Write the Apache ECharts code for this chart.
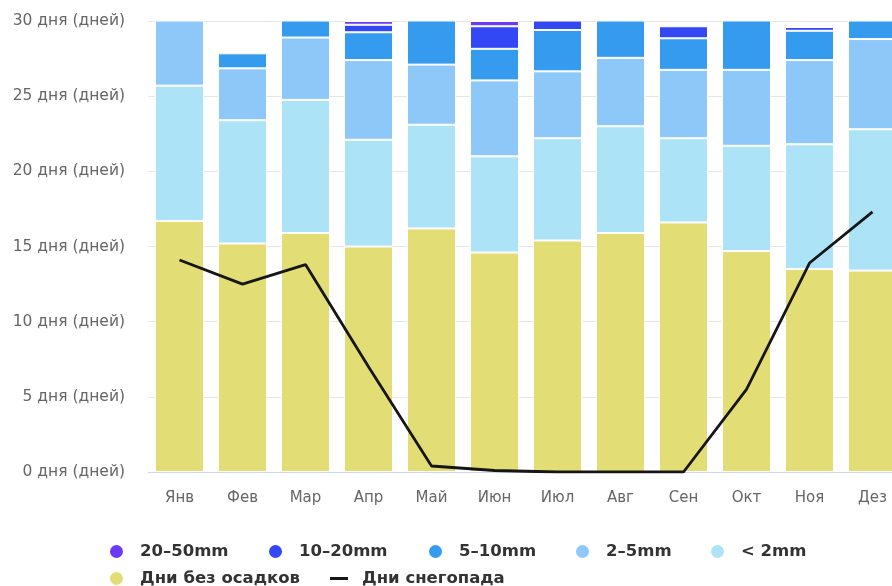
<!DOCTYPE html>
<html>
<head>
<meta charset="utf-8">
<script src="https://cdn.jsdelivr.net/npm/echarts@6/dist/echarts.min.js"></script>
<style>
  html, body { margin: 0; padding: 0; background: #ffffff; overflow: hidden; width: 892px; height: 586px; }
  /* the plot runs a little past the right edge of the page */
  #chart { width: 904px; height: 586px; }
</style>
</head>
<body>
<div id="chart"></div>
<script>
// Monthly climate: days per precipitation class and snowfall days
const months = ['Янв', 'Фев', 'Мар', 'Апр', 'Май', 'Июн', 'Июл', 'Авг', 'Сен', 'Окт', 'Ноя', 'Дез'];

const dryDays   = [16.7, 15.2, 15.9, 15.0, 16.2, 14.6, 15.4, 15.9, 16.6, 14.7, 13.5, 13.4];
const under2mm  = [9.0, 8.2, 8.85, 7.1, 6.9, 6.4, 6.8, 7.1, 5.6, 7.0, 8.3, 9.4];
const mm2to5    = [5.0, 3.45, 4.15, 5.3, 4.0, 5.05, 4.45, 4.55, 4.55, 5.05, 5.6, 6.0];
const mm5to10   = [0.3, 1.0, 2.1, 1.85, 3.9, 2.1, 2.75, 3.45, 2.1, 4.25, 1.95, 2.2];
const mm10to20  = [0, 0, 0, 0.5, 0, 1.5, 0.9, 0, 0.8, 0, 0.25, 0];
const mm20to50  = [0, 0, 0, 0.25, 0, 0.35, 0.7, 0, 0, 0, 0.13, 0];
const snowDays  = [14.1, 12.5, 13.8, 7.0, 0.4, 0.1, 0, 0, 0, 5.5, 13.9, 17.3];

const yTicks = [0, 5, 10, 15, 20, 25, 30];

const FONT = 'DejaVu Sans';

// bottom-to-top stacking order
const stackSeries = [
  { name: 'Дни без осадков', data: dryDays,  color: '#e2dd75' },
  { name: '< 2mm',           data: under2mm, color: '#ade3f7' },
  { name: '2–5mm',           data: mm2to5,   color: '#8ec8f9' },
  { name: '5–10mm',          data: mm5to10,  color: '#349bef' },
  { name: '10–20mm',         data: mm10to20, color: '#3447f4' },
  { name: '20–50mm',         data: mm20to50, color: '#6a3af4' }
];

const series = stackSeries.map(s => ({
  name: s.name,
  type: 'bar',
  stack: 'days',
  barWidth: 49,
  data: s.data.map(v => (v > 0 ? v : '-')),
  itemStyle: { color: s.color, borderColor: '#ffffff', borderWidth: 1 },
  emphasis: { disabled: true },
  clip: true
}));

series.push({
  name: 'Дни снегопада',
  type: 'line',
  data: snowDays,
  symbol: 'none',
  lineStyle: { color: '#161616', width: 2.8 },
  itemStyle: { color: '#161616' },
  z: 5
});

// legend entries, one component each so they can sit on a two-row layout
const legendItems = [
  { name: '20–50mm',         left: 108, top: 543 },
  { name: '10–20mm',         left: 267, top: 543 },
  { name: '5–10mm',          left: 427, top: 543 },
  { name: '2–5mm',           left: 574, top: 543 },
  { name: '< 2mm',           left: 709, top: 543 },
  { name: 'Дни без осадков', left: 108, top: 570 },
  { name: 'Дни снегопада',   left: 330, top: 570, line: true }
];

const legends = legendItems.map(it => ({
  left: it.left,
  top: it.top,
  padding: 0,
  itemWidth: it.line ? 18 : 15,
  itemHeight: it.line ? 3 : 15,
  icon: it.line ? 'rect' : 'circle',
  selectedMode: false,
  data: [it.name],
  textStyle: {
    fontFamily: FONT,
    fontSize: 16.5,
    fontWeight: 'bold',
    color: '#333333',
    padding: [0, 0, 0, it.line ? 9 : 11]
  }
}));

const chart = echarts.init(document.getElementById('chart'), null, { renderer: 'canvas' });
chart.setOption({
  animation: false,
  backgroundColor: '#ffffff',
  grid: { left: 148, right: 0, top: 21, bottom: 114, containLabel: false },
  legend: legends,
  xAxis: {
    type: 'category',
    data: months,
    axisLine: { lineStyle: { color: '#ccd6eb', width: 1 } },
    axisTick: { alignWithLabel: true, length: 10, lineStyle: { color: '#ccd6eb' } },
    axisLabel: { color: '#666666', fontFamily: FONT, fontSize: 15, margin: 19 }
  },
  yAxis: {
    type: 'value',
    min: yTicks[0],
    max: yTicks[yTicks.length - 1],
    interval: yTicks[1] - yTicks[0],
    axisLine: { show: false },
    axisTick: { show: false },
    splitLine: { lineStyle: { color: '#e6e6e6', width: 1 } },
    axisLabel: {
      color: '#666666',
      fontFamily: FONT,
      fontSize: 15.5,
      margin: 23,
      formatter: v => v + ' дня (дней)'
    }
  },
  series: series
});
</script>
</body>
</html>
